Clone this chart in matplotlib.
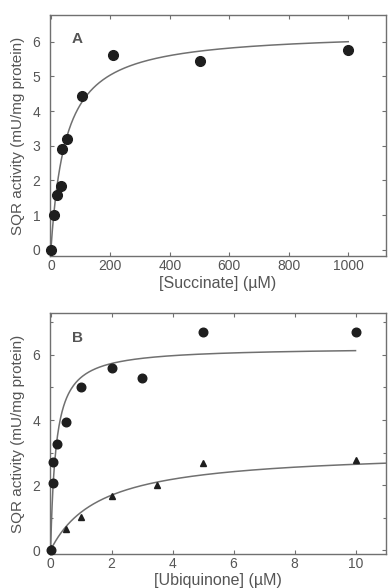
import numpy as np
import matplotlib
matplotlib.use("Agg")
import matplotlib.pyplot as plt
from matplotlib.ticker import MultipleLocator

plt.rcParams['font.family'] = ['Liberation Sans', 'DejaVu Sans']

# Panel A data
succ_x = [0, 9, 22, 34, 39, 54, 104, 210, 500, 1000]
succ_y = [0.0, 1.0, 1.59, 1.85, 2.9, 3.2, 4.42, 5.62, 5.43, 5.77]
succ_vmax, succ_km = 6.3, 50.0

# Panel B data
ubq_x = [0, 0.09, 0.09, 0.22, 0.5, 1.0, 2.0, 3.0, 5.0, 10.0]
ubq_y = [0.0, 2.07, 2.7, 3.25, 3.95, 5.02, 5.59, 5.28, 6.72, 6.72]
ubq_vmax, ubq_km = 6.24, 0.175

tri_x = [0, 0.5, 1.0, 2.0, 3.5, 5.0, 10.0]
tri_y = [0.05, 0.64, 1.03, 1.66, 2.0, 2.69, 2.77]
tri_vmax, tri_km = 3.07, 1.635

text_c = '#555555'
line_c = '#707070'
mark_c = '#1e1e1e'

fig = plt.figure(figsize=(3.88, 5.88), dpi=100)
axA = fig.add_axes([50/388, (588-256)/588, 336/388, 241/588])
axB = fig.add_axes([50/388, (588-554)/588, 336/388, 241/588])

def style(ax):
    for s in ax.spines.values():
        s.set_color(line_c)
        s.set_linewidth(1.0)
    ax.tick_params(direction='in', which='both', top=True, right=True,
                   colors=line_c, labelcolor=text_c, labelsize=10,
                   length=3, width=0.8)
    ax.tick_params(axis='x', pad=2.5)
    ax.tick_params(axis='y', pad=7)
    ax.tick_params(which='minor', length=2)

# Panel A
xa = np.linspace(0, 1000, 400)
axA.plot(xa, succ_vmax * xa / (succ_km + xa), color=line_c, lw=1.1)
axA.plot(succ_x, succ_y, 'o', color=mark_c, ms=7, clip_on=False, zorder=5)
axA.set_xlim(-3, 1127)
axA.set_ylim(-0.18, 6.77)
axA.set_xticks([0, 200, 400, 600, 800, 1000])
axA.set_yticks([0, 1, 2, 3, 4, 5, 6])
style(axA)
axA.set_xlabel('[Succinate] (\u00b5M)', color=text_c, fontsize=11.5, labelpad=2)
axA.set_ylabel('SQR activity (mU/mg protein)', color=text_c, fontsize=11, labelpad=5)
axA.text(0.065, 0.884, 'A', transform=axA.transAxes, fontsize=11, fontweight='bold', color=text_c)

# Panel B
xb = np.linspace(0, 10, 400)
xt = np.linspace(0, 11, 400)
axB.plot(xb, ubq_vmax * xb / (ubq_km + xb), color=line_c, lw=1.1)
axB.plot(xt, tri_vmax * xt / (tri_km + xt), color=line_c, lw=1.1)
axB.plot(ubq_x, ubq_y, 'o', color=mark_c, ms=6.2, clip_on=False, zorder=5)
axB.plot(tri_x, tri_y, '^', color=mark_c, ms=4.0, clip_on=False, zorder=5)
axB.set_xlim(-0.02, 11.0)
axB.set_ylim(-0.12, 7.29)
axB.set_xticks([0, 2, 4, 6, 8, 10])
axB.set_yticks([0, 2, 4, 6])
axB.yaxis.set_minor_locator(MultipleLocator(1))
style(axB)
axB.set_xlabel('[Ubiquinone] (\u00b5M)', color=text_c, fontsize=11.5, labelpad=1)
axB.set_ylabel('SQR activity (mU/mg protein)', color=text_c, fontsize=11, labelpad=5)
axB.text(0.065, 0.88, 'B', transform=axB.transAxes, fontsize=11, fontweight='bold', color=text_c)

fig.savefig('out.png', dpi=100)
